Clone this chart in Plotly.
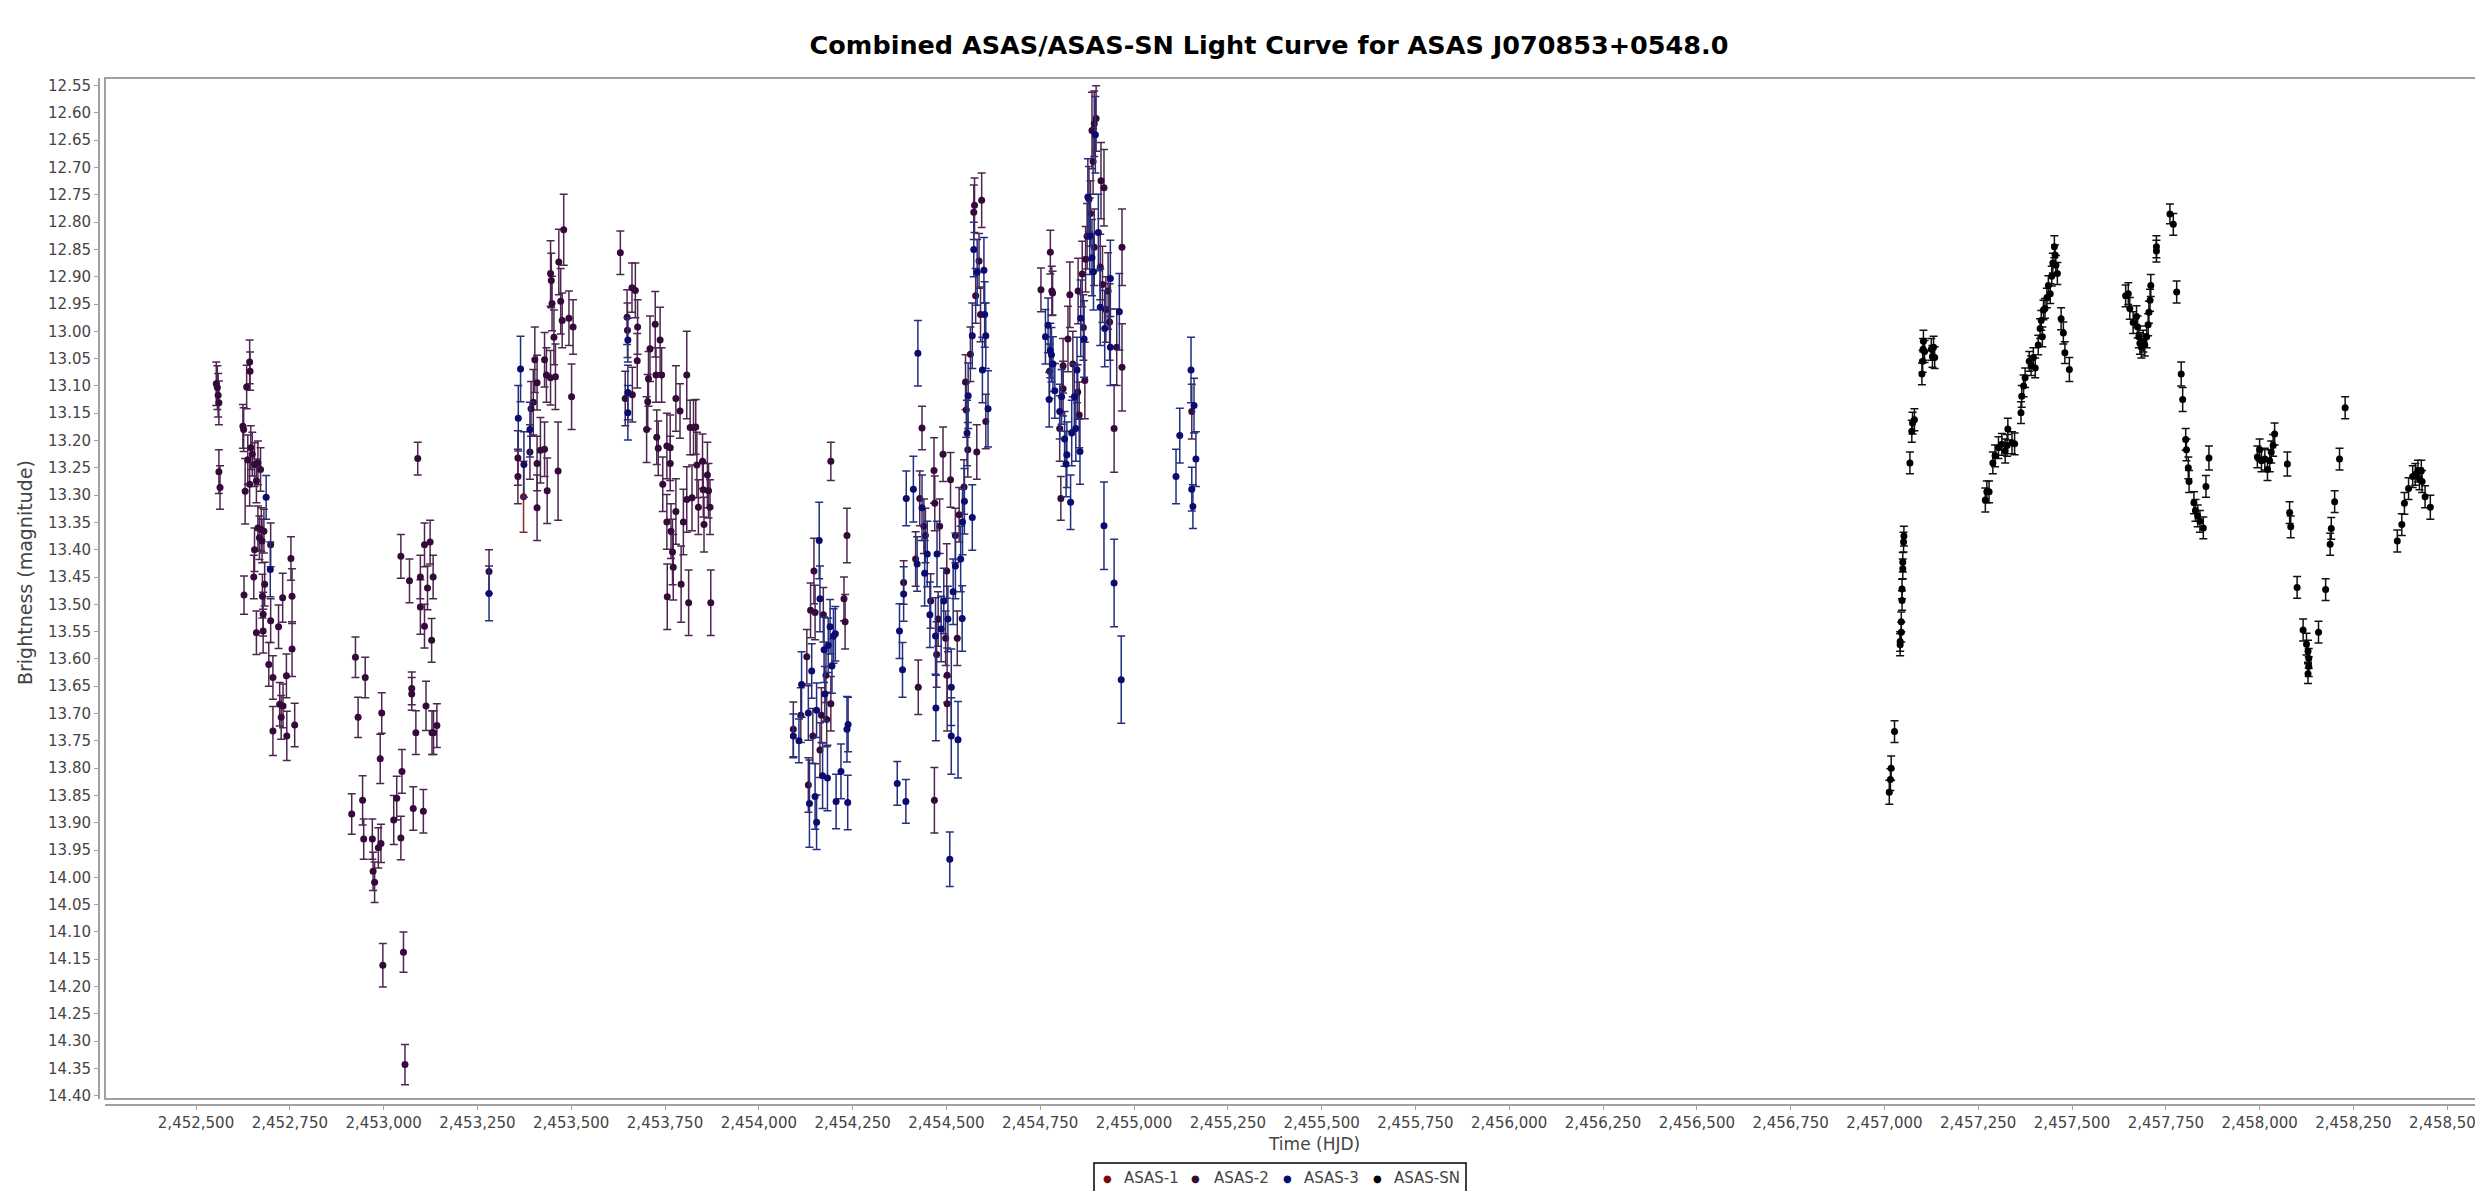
import plotly.graph_objects as go

# ---------------- data ----------------
asas1_hjd = [2453373]
asas1_mag = [13.303]
asas1_err = [0.065]

asas2_hjd = [
    2452554, 2452557, 2452559, 2452561, 2452561, 2452564, 2452643, 2452644, 2452635, 2452625,
    2452627, 2452646, 2452650, 2452638, 2452656, 2452665, 2452672, 2452631, 2452643, 2452661,
    2452665, 2452674, 2452669, 2452681, 2452656, 2452676, 2452699, 2452628, 2452654, 2452683,
    2452677, 2452679, 2452661, 2452679, 2452699, 2452720, 2452731, 2452753, 2452756, 2452756,
    2452694, 2452705, 2452741, 2452723, 2452732, 2452727, 2452705, 2452742, 2452763,
    2452915, 2452925, 2452932, 2452944, 2452947, 2452951, 2452970, 2452972, 2452976, 2452986,
    2452993, 2452991, 2452995, 2452998, 2453027, 2453035, 2453046, 2453049, 2453053, 2453057,
    2453075, 2453075, 2453079, 2453086, 2453106, 2453113, 2453129, 2453133, 2453142, 2453091,
    2453046, 2453069, 2453109, 2453124, 2453098, 2453117, 2453132, 2453098, 2453109, 2453128,
    2453281,
    2453358, 2453358, 2453390, 2453393, 2453399, 2453403, 2453409, 2453409, 2453409, 2453418,
    2453429, 2453434, 2453429, 2453436, 2453445, 2453447, 2453449, 2453454, 2453445, 2453458,
    2453467, 2453472, 2453476, 2453480, 2453465, 2453494, 2453505, 2453501,
    2453631, 2453649, 2453650, 2453662, 2453671, 2453677, 2453676, 2453644, 2453663, 2453706,
    2453710, 2453704, 2453701, 2453724, 2453726, 2453737, 2453741, 2453728, 2453732, 2453744,
    2453755, 2453764, 2453764, 2453755, 2453756, 2453766, 2453770, 2453772, 2453779, 2453779,
    2453790, 2453793, 2453799, 2453808, 2453808, 2453813, 2453817, 2453822, 2453826, 2453832,
    2453835, 2453839, 2453850, 2453852, 2453854, 2453863, 2453866, 2453870, 2453872,
    2454092, 2454112, 2454128, 2454132, 2454138, 2454144, 2454147, 2454150, 2454163, 2454167,
    2454172, 2454179, 2454181, 2454192, 2454192, 2454227, 2454230, 2454235,
    2454386, 2454418, 2454425, 2454435, 2454429, 2454440, 2454444, 2454458, 2454467, 2454469,
    2454468, 2454474, 2454478, 2454482, 2454491, 2454498, 2454501, 2454502, 2454502, 2454511,
    2454524, 2454529, 2454534, 2454547, 2454551, 2454553, 2454557, 2454564, 2454573, 2454575,
    2454578, 2454581, 2454587, 2454591, 2454594, 2454605,
    2454752, 2454777, 2454781, 2454783, 2454775, 2454802, 2454811, 2454811, 2454805, 2454824,
    2454829, 2454837, 2454850, 2454851, 2454854, 2454862, 2454865, 2454869, 2454871, 2454875,
    2454880, 2454884, 2454888, 2454894, 2454891, 2454899, 2454894, 2454910, 2454912, 2454920,
    2454916, 2454925, 2454931, 2454935, 2454954, 2454968, 2454968, 2454947, 2455154,
]
asas2_mag = [
    13.096, 13.103, 13.117, 13.131, 13.257, 13.286, 13.056, 13.073, 13.102, 13.174,
    13.180, 13.213, 13.225, 13.235, 13.244, 13.241, 13.253, 13.293, 13.280, 13.274,
    13.360, 13.363, 13.378, 13.366, 13.400, 13.384, 13.391, 13.483, 13.450, 13.463,
    13.485, 13.518, 13.552, 13.549, 13.530, 13.541, 13.488, 13.416, 13.485, 13.582,
    13.610, 13.634, 13.631, 13.683, 13.686, 13.707, 13.732, 13.741, 13.721,
    13.884, 13.597, 13.707, 13.859, 13.930, 13.634, 13.930, 13.989, 14.009, 13.946,
    13.938, 13.783, 13.699, 14.161, 13.895, 13.855, 13.928, 13.806, 14.137, 14.343,
    13.654, 13.664, 13.874, 13.735, 13.879, 13.686, 13.735, 13.735, 13.722, 13.233,
    13.412, 13.457, 13.391, 13.386, 13.450, 13.470, 13.450, 13.505, 13.540, 13.566,
    13.440,
    13.232, 13.266, 13.221, 13.142, 13.130, 13.052, 13.094, 13.242, 13.323, 13.218,
    13.052, 13.080, 13.216, 13.292, 12.894, 12.907, 12.949, 13.011, 13.085, 13.083,
    12.873, 12.945, 12.980, 12.814, 13.256, 12.976, 12.992, 13.120,
    12.856, 12.974, 12.998, 12.920, 12.925, 12.992, 13.054, 13.123, 13.116, 13.087,
    13.032, 13.129, 13.180, 12.987, 13.080, 13.016, 13.080, 13.194, 13.214, 13.280,
    13.210, 13.213, 13.242, 13.349, 13.486, 13.366, 13.404, 13.432, 13.330, 13.123,
    13.146, 13.463, 13.349, 13.080, 13.308, 13.497, 13.176, 13.305, 13.176, 13.175,
    13.245, 13.322, 13.238, 13.290, 13.354, 13.263, 13.292, 13.322, 13.497,
    13.729, 13.703, 13.596, 13.831, 13.511, 13.741, 13.439, 13.515, 13.767, 13.703,
    13.519, 13.630, 13.711, 13.682, 13.238, 13.490, 13.532, 13.374,
    13.460, 13.417, 13.652, 13.177, 13.306, 13.357, 13.374, 13.494, 13.255, 13.315,
    13.859, 13.592, 13.527, 13.357, 13.225, 13.562, 13.439, 13.682, 13.630, 13.272,
    13.374, 13.562, 13.336, 13.285, 13.093, 13.144, 13.217, 13.042, 12.782, 12.769,
    12.935, 13.221, 12.871, 12.969, 12.760, 13.165,
    12.924, 12.855, 12.926, 12.930, 13.073, 13.178, 13.105, 13.063, 13.306, 13.014,
    12.933, 13.060, 13.111, 12.926, 13.153, 12.895, 12.993, 13.090, 12.868, 12.826,
    12.758, 12.784, 12.632, 12.620, 12.689, 12.610, 12.846, 12.882, 12.724, 12.737,
    12.914, 12.960, 12.926, 12.983, 13.029, 12.846, 13.066, 13.178, 13.147,
]
asas2_err = [
    0.040, 0.040, 0.040, 0.040, 0.040, 0.040, 0.040, 0.035, 0.040, 0.040,
    0.040, 0.040, 0.040, 0.045, 0.040, 0.040, 0.040, 0.060, 0.040, 0.040,
    0.040, 0.040, 0.040, 0.040, 0.040, 0.040, 0.040, 0.035, 0.040, 0.040,
    0.040, 0.040, 0.040, 0.040, 0.040, 0.040, 0.045, 0.040, 0.050, 0.050,
    0.040, 0.040, 0.040, 0.040, 0.040, 0.040, 0.045, 0.045, 0.040,
    0.037, 0.037, 0.037, 0.045, 0.037, 0.037, 0.037, 0.035, 0.037, 0.037,
    0.035, 0.045, 0.037, 0.040, 0.045, 0.040, 0.040, 0.040, 0.037, 0.037,
    0.030, 0.030, 0.040, 0.040, 0.040, 0.045, 0.040, 0.040, 0.040, 0.030,
    0.040, 0.040, 0.040, 0.040, 0.040, 0.040, 0.040, 0.050, 0.040, 0.040,
    0.040,
    0.050, 0.050, 0.050, 0.050, 0.060, 0.060, 0.050, 0.050, 0.060, 0.060,
    0.050, 0.050, 0.050, 0.060, 0.060, 0.050, 0.050, 0.050, 0.050, 0.060,
    0.060, 0.060, 0.050, 0.065, 0.090, 0.050, 0.050, 0.060,
    0.040, 0.050, 0.050, 0.045, 0.050, 0.050, 0.050, 0.050, 0.050, 0.050,
    0.060, 0.050, 0.060, 0.060, 0.050, 0.060, 0.050, 0.050, 0.050, 0.050,
    0.060, 0.060, 0.050, 0.050, 0.060, 0.050, 0.060, 0.060, 0.060, 0.060,
    0.050, 0.070, 0.060, 0.080, 0.060, 0.060, 0.050, 0.060, 0.050, 0.050,
    0.060, 0.050, 0.050, 0.050, 0.050, 0.060, 0.050, 0.050, 0.060,
    0.050, 0.050, 0.050, 0.050, 0.050, 0.050, 0.060, 0.050, 0.050, 0.050,
    0.050, 0.050, 0.050, 0.050, 0.035, 0.040, 0.050, 0.050,
    0.040, 0.050, 0.050, 0.040, 0.050, 0.050, 0.050, 0.050, 0.060, 0.050,
    0.060, 0.060, 0.050, 0.050, 0.050, 0.050, 0.050, 0.050, 0.050, 0.050,
    0.050, 0.050, 0.050, 0.050, 0.050, 0.050, 0.050, 0.050, 0.050, 0.050,
    0.050, 0.050, 0.050, 0.050, 0.050, 0.050,
    0.040, 0.040, 0.045, 0.040, 0.050, 0.060, 0.050, 0.050, 0.040, 0.060,
    0.060, 0.060, 0.050, 0.060, 0.060, 0.060, 0.060, 0.070, 0.060, 0.060,
    0.060, 0.060, 0.070, 0.060, 0.060, 0.060, 0.070, 0.060, 0.070, 0.070,
    0.070, 0.060, 0.070, 0.070, 0.070, 0.070, 0.080, 0.080, 0.050,
]

asas3_hjd = [
    2452687, 2452698, 2453281, 2453365, 2453359, 2453374, 2453390, 2453651, 2453651, 2453651,
    2454092, 2454107, 2454114, 2454132, 2454135, 2454141, 2454150, 2454154, 2454154, 2454161,
    2454163, 2454170, 2454174, 2454176, 2454183, 2454185, 2454190, 2454195, 2454199, 2454204,
    2454206, 2454219, 2454235, 2454238, 2454237,
    2454369, 2454392, 2454375, 2454383, 2454386, 2454393, 2454412, 2454422, 2454424, 2454435,
    2454442, 2454449, 2454456, 2454471, 2454472, 2454475, 2454486, 2454493, 2454504, 2454509,
    2454513, 2454513, 2454518, 2454524, 2454531, 2454538, 2454542, 2454543, 2454548, 2454555,
    2454558, 2454569, 2454569, 2454573, 2454582, 2454596, 2454600, 2454602, 2454605, 2454611,
    2454764, 2454771, 2454777, 2454780, 2454784, 2454774, 2454789, 2454802, 2454807, 2454815,
    2454819, 2454821, 2454831, 2454834, 2454841, 2454845, 2454848, 2454856, 2454858, 2454867,
    2454877, 2454882, 2454897, 2454888, 2454892, 2454905, 2454910, 2454922, 2454937, 2454937,
    2454961, 2454920, 2454947, 2454966,
    2455112, 2455122, 2455152, 2455160, 2455165, 2455154, 2455157,
]
asas3_mag = [
    13.304, 13.436, 13.480, 13.069, 13.159, 13.244, 13.180, 13.016, 13.112, 13.149,
    13.741, 13.750, 13.647, 13.699, 13.865, 13.622, 13.852, 13.899, 13.694, 13.383,
    13.490, 13.814, 13.583, 13.664, 13.818, 13.575, 13.541, 13.613, 13.558, 13.554,
    13.861, 13.806, 13.729, 13.720, 13.863,
    13.828, 13.861, 13.549, 13.620, 13.481, 13.306, 13.289, 13.426, 13.040, 13.323,
    13.443, 13.408, 13.519, 13.558, 13.690, 13.408, 13.545, 13.494, 13.527, 13.967,
    13.652, 13.741, 13.477, 13.430, 13.748, 13.417, 13.526, 13.349, 13.311, 13.186,
    13.118, 13.008, 13.341, 12.850, 12.892, 13.071, 12.888, 12.969, 13.008, 13.142,
    13.010, 12.989, 13.035, 13.043, 13.060, 13.125, 13.109, 13.147, 13.120, 13.197,
    13.243, 13.226, 13.313, 13.186, 13.120, 13.178, 13.071, 13.220, 12.976, 13.014,
    12.754, 12.826, 12.640, 12.865, 12.891, 12.819, 12.956, 12.995, 12.903, 13.029,
    12.964, 13.356, 13.461, 13.638,
    13.266, 13.191, 13.071, 13.136, 13.234, 13.289, 13.321,
]
asas3_err = [
    0.040, 0.050, 0.050, 0.060, 0.060, 0.060, 0.050, 0.040, 0.050, 0.050,
    0.040, 0.040, 0.060, 0.050, 0.080, 0.050, 0.060, 0.050, 0.050, 0.070,
    0.060, 0.060, 0.060, 0.050, 0.060, 0.050, 0.050, 0.050, 0.050, 0.050,
    0.050, 0.050, 0.060, 0.050, 0.050,
    0.040, 0.040, 0.050, 0.050, 0.050, 0.050, 0.060, 0.050, 0.060, 0.060,
    0.060, 0.060, 0.060, 0.070, 0.060, 0.060, 0.060, 0.060, 0.060, 0.050,
    0.070, 0.070, 0.060, 0.060, 0.070, 0.060, 0.060, 0.060, 0.060, 0.060,
    0.060, 0.060, 0.060, 0.050, 0.060, 0.060, 0.060, 0.060, 0.060, 0.070,
    0.050, 0.050, 0.050, 0.050, 0.050, 0.050, 0.050, 0.050, 0.050, 0.050,
    0.060, 0.060, 0.050, 0.060, 0.060, 0.060, 0.060, 0.060, 0.070, 0.070,
    0.070, 0.070, 0.070, 0.070, 0.070, 0.070, 0.070, 0.070, 0.070, 0.070,
    0.070, 0.080, 0.080, 0.080,
    0.050, 0.050, 0.060, 0.050, 0.050, 0.040, 0.040,
]

asassn_hjd = [
    2457013, 2457016, 2457018, 2457027, 2457042, 2457042, 2457045, 2457045, 2457047, 2457047,
    2457049, 2457049, 2457051, 2457052, 2457068, 2457073, 2457075, 2457080, 2457100, 2457102,
    2457103, 2457104, 2457107, 2457125, 2457128, 2457131, 2457134,
    2457269, 2457273, 2457279, 2457289, 2457295, 2457304, 2457313, 2457322, 2457329, 2457327,
    2457340, 2457347, 2457364, 2457366, 2457371, 2457375, 2457386, 2457391, 2457397, 2457402,
    2457410, 2457415, 2457418, 2457424, 2457421, 2457428, 2457433, 2457437, 2457442, 2457446,
    2457449, 2457453, 2457455, 2457457, 2457461, 2457471, 2457477, 2457481, 2457493,
    2457643, 2457650, 2457654, 2457663, 2457672, 2457675, 2457678, 2457681, 2457685, 2457690,
    2457694, 2457699, 2457703, 2457705, 2457708, 2457710, 2457725, 2457725, 2457761, 2457770,
    2457779, 2457791, 2457795, 2457803, 2457805, 2457810, 2457812, 2457825, 2457829, 2457835,
    2457841, 2457850, 2457857, 2457865,
    2457994, 2458000, 2458005, 2458014, 2458021, 2458027, 2458031, 2458036, 2458040,
    2458074, 2458080, 2458083, 2458100, 2458116, 2458125, 2458129, 2458131, 2458131, 2458129,
    2458157, 2458176, 2458188, 2458191, 2458200, 2458213, 2458228,
    2458367, 2458379, 2458386, 2458397, 2458408, 2458415, 2458422, 2458426, 2458431, 2458433,
    2458441, 2458455,
]
asassn_mag = [
    13.844, 13.821, 13.800, 13.733, 13.574, 13.568, 13.551, 13.532, 13.493, 13.472,
    13.435, 13.423, 13.386, 13.375, 13.241, 13.183, 13.168, 13.162, 13.078, 13.055,
    13.033, 13.018, 13.037, 13.033, 13.046, 13.029, 13.048,
    13.309, 13.294, 13.294, 13.241, 13.228, 13.213, 13.207, 13.219, 13.179, 13.209,
    13.204, 13.206, 13.149, 13.119, 13.100, 13.085, 13.055, 13.063, 13.048, 13.067,
    13.025, 12.995, 12.980, 12.961, 13.010, 12.958, 12.939, 12.916, 12.931, 12.899,
    12.875, 12.845, 12.860, 12.879, 12.894, 12.977, 13.003, 13.039, 13.070,
    12.935, 12.931, 12.958, 12.984, 12.973, 12.992, 13.010, 13.022, 13.029, 13.018,
    13.025, 13.010, 12.988, 12.965, 12.943, 12.916, 12.845, 12.853, 12.785, 12.804,
    12.928, 13.078, 13.125, 13.198, 13.217, 13.250, 13.275, 13.314, 13.328, 13.338,
    13.348, 13.360, 13.284, 13.232,
    13.230, 13.217, 13.237, 13.234, 13.253, 13.237, 13.221, 13.209, 13.188,
    13.243, 13.332, 13.358, 13.469, 13.547, 13.573, 13.586, 13.599, 13.614, 13.627,
    13.551, 13.473, 13.390, 13.361, 13.312, 13.234, 13.140,
    13.384, 13.354, 13.315, 13.288, 13.266, 13.262, 13.256, 13.270, 13.256, 13.275,
    13.303, 13.322,
]
asassn_err = [
    0.022, 0.020, 0.022, 0.020, 0.020, 0.018, 0.018, 0.018, 0.018, 0.018,
    0.018, 0.018, 0.018, 0.018, 0.020, 0.020, 0.020, 0.020, 0.020, 0.020,
    0.020, 0.020, 0.020, 0.020, 0.020, 0.020, 0.020,
    0.022, 0.020, 0.020, 0.020, 0.020, 0.020, 0.020, 0.022, 0.020, 0.020,
    0.020, 0.020, 0.020, 0.020, 0.020, 0.018, 0.018, 0.018, 0.018, 0.018,
    0.018, 0.018, 0.018, 0.018, 0.018, 0.018, 0.018, 0.018, 0.018, 0.018,
    0.018, 0.020, 0.018, 0.018, 0.020, 0.020, 0.020, 0.020, 0.022,
    0.020, 0.020, 0.020, 0.020, 0.020, 0.020, 0.020, 0.020, 0.020, 0.020,
    0.020, 0.020, 0.020, 0.020, 0.020, 0.020, 0.020, 0.020, 0.018, 0.020,
    0.020, 0.022, 0.022, 0.020, 0.020, 0.020, 0.020, 0.020, 0.020, 0.020,
    0.020, 0.020, 0.020, 0.022,
    0.020, 0.020, 0.020, 0.020, 0.020, 0.020, 0.020, 0.020, 0.020,
    0.022, 0.020, 0.020, 0.020, 0.020, 0.020, 0.020, 0.018, 0.018, 0.018,
    0.020, 0.020, 0.020, 0.020, 0.020, 0.020, 0.020,
    0.020, 0.020, 0.020, 0.020, 0.020, 0.020, 0.020, 0.020, 0.020, 0.020,
    0.020, 0.022,
]

series_names = ["ASAS-1", "ASAS-2", "ASAS-3", "ASAS-SN"]
x_ticks_start, x_ticks_step = 2452500, 250

# ---------------- styling ----------------
marker_colors = {"ASAS-1": "#7a0c0c", "ASAS-2": "#35093a", "ASAS-3": "#0b0b70", "ASAS-SN": "#000000"}
bar_colors = {"ASAS-1": "#8a2a2a", "ASAS-2": "#4e2750", "ASAS-3": "#22307f", "ASAS-SN": "#111111"}

FONT = "DejaVu Sans"

fig = go.Figure()
data_sets = [
    (asas1_hjd, asas1_mag, asas1_err),
    (asas2_hjd, asas2_mag, asas2_err),
    (asas3_hjd, asas3_mag, asas3_err),
    (asassn_hjd, asassn_mag, asassn_err),
]
for name, (xs, ys, es) in zip(series_names, data_sets):
    fig.add_trace(go.Scatter(
        x=xs, y=ys, mode="markers", name=name, showlegend=False,
        marker=dict(color=marker_colors[name], size=7, line=dict(width=0)),
        error_y=dict(type="data", array=es, visible=True, color=bar_colors[name],
                     thickness=1.5, width=4),
    ))

W, H = 2483, 1191
ML, MR, MT, MB = 91, 0, 70, 94
pw = W - ML - MR
ph = H - MT - MB

x_left_px, x_right_px = 97, 2483
tick0_px, px_per_step = 188.0, 93.8
x_range = [x_ticks_start - (tick0_px - x_left_px) / px_per_step * x_ticks_step,
           x_ticks_start + (x_right_px - tick0_px) / px_per_step * x_ticks_step]


def px_x(px):
    return (px - ML) / pw


def px_y(py):
    return (H - MB - py) / ph


fig.update_layout(
    width=W, height=H,
    margin=dict(l=ML, r=MR, t=MT, b=MB, pad=0),
    paper_bgcolor="white", plot_bgcolor="white",
    font=dict(family=FONT, size=15, color="#444444"),
    title=dict(text="<b>Combined ASAS/ASAS-SN Light Curve for ASAS J070853+0548.0</b>",
               x=1261 / W, xanchor="center", xref="container",
               y=1 - 37 / H, yanchor="middle", yref="container",
               font=dict(family=FONT, size=25.5, color="#000000")),
    showlegend=False,
    xaxis=dict(
        domain=[6 / pw, 1], anchor="free", position=0,
        range=x_range, tick0=x_ticks_start, dtick=x_ticks_step,
        tickformat=",d", showgrid=False, zeroline=False,
        showline=True, linecolor="#a0a0a0", linewidth=2,
        ticks="outside", ticklen=4, tickcolor="#a0a0a0",
        tickfont=dict(family=FONT, size=15, color="#444444"),
    ),
    yaxis=dict(
        domain=[6 / ph, 1], anchor="free", position=0,
        range=[14.406, 12.536], dtick=0.05, tick0=12.55, tickformat=".2f",
        showgrid=False, zeroline=False,
        showline=True, linecolor="#a0a0a0", linewidth=2,
        ticks="outside", ticklen=4, tickcolor="#a0a0a0",
        tickfont=dict(family=FONT, size=15, color="#444444"),
    ),
)

# plot outline (left, top, bottom; the right side runs off the page)
fig.add_shape(type="path", xref="x domain", yref="y domain",
              path="M 1.01 1 L 0 1 L 0 0 L 1.01 0",
              line=dict(color="#a0a0a0", width=2), layer="above")

fig.add_annotation(text="Time (HJD)", xref="paper", yref="paper",
                   x=px_x(1306), y=px_y(1136),
                   showarrow=False, xanchor="center", yanchor="middle",
                   font=dict(family=FONT, size=17, color="#444444"))
fig.add_annotation(text="Brightness (magnitude)", xref="paper", yref="paper",
                   x=px_x(17), y=px_y(565), textangle=-90,
                   showarrow=False, xanchor="center", yanchor="middle",
                   font=dict(family=FONT, size=19, color="#444444"))

# legend box (bottom centre), drawn as a bordered strip with a dot and a label per series
legend_box = (1086, 1155, 1458, 1184)
legend_dot_px = [1099, 1187, 1279, 1369]
legend_text_px = [1114, 1204, 1294, 1384]
legend_cy = 1170
fig.add_shape(type="rect", xref="paper", yref="paper",
              x0=px_x(legend_box[0]), x1=px_x(legend_box[2]),
              y0=px_y(legend_box[3]), y1=px_y(legend_box[1]),
              line=dict(color="#000000", width=1.5), fillcolor="white")
for name, dx, tx in zip(series_names, legend_dot_px, legend_text_px):
    fig.add_annotation(text="●", xref="paper", yref="paper", x=px_x(dx), y=px_y(legend_cy),
                       showarrow=False, xanchor="center", yanchor="middle",
                       font=dict(family=FONT, size=10, color=marker_colors[name]))
    fig.add_annotation(text=name, xref="paper", yref="paper", x=px_x(tx), y=px_y(legend_cy),
                       showarrow=False, xanchor="left", yanchor="middle",
                       font=dict(family=FONT, size=15, color="#444444"))

fig.write_html("out.html")
